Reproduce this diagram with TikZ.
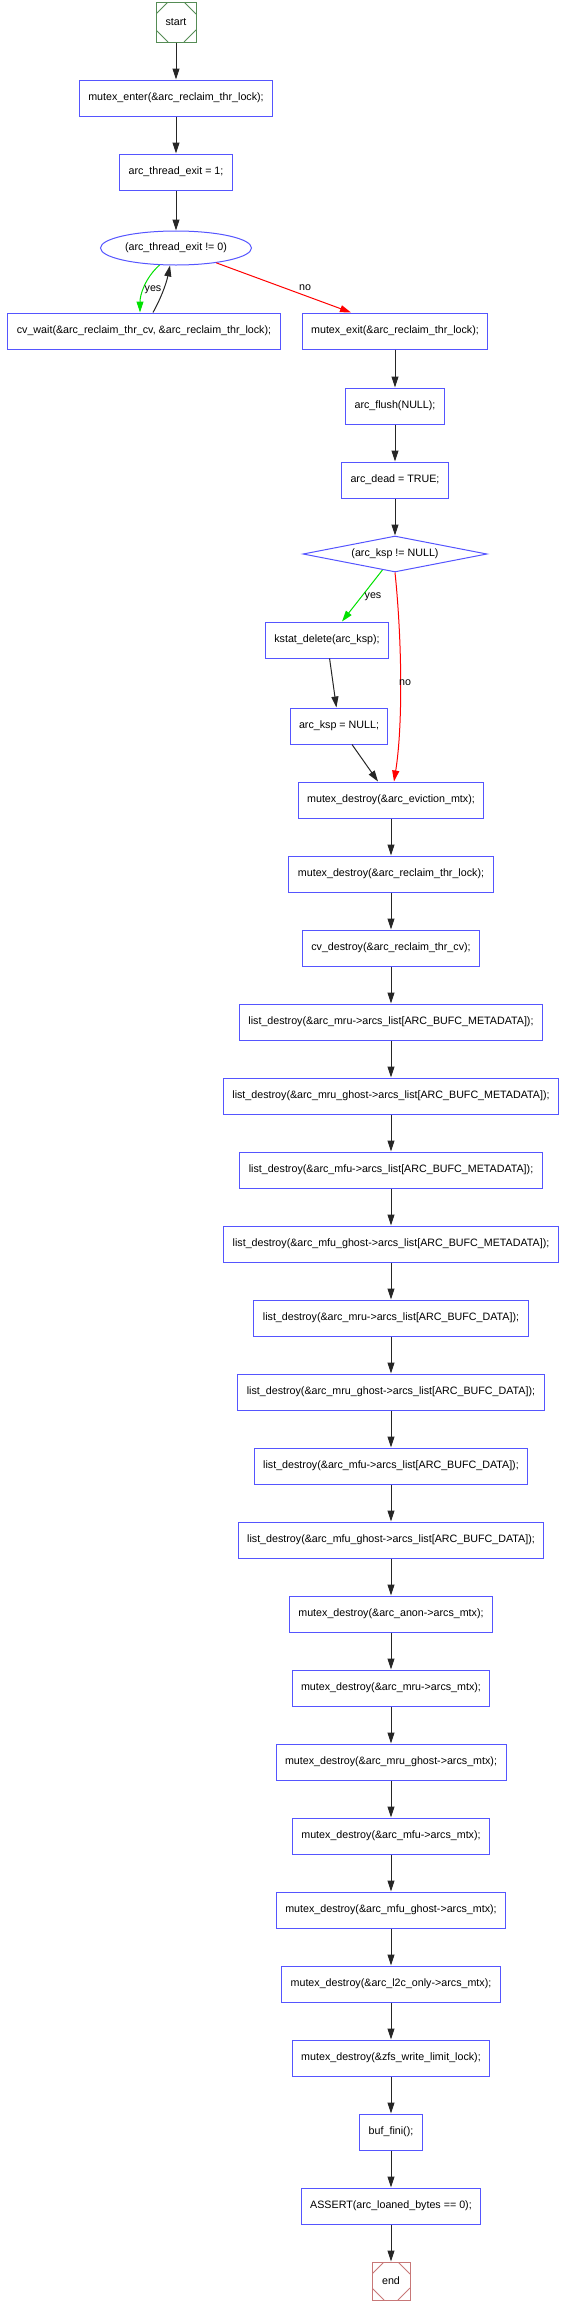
\documentclass[tikz,border=0pt]{standalone}
\usepackage{fontspec}
\setmainfont{Liberation Sans}
\usetikzlibrary{shapes.geometric,arrows.meta}
\definecolor{boxblue}{RGB}{85,85,255}
\definecolor{startgreen}{RGB}{85,140,85}
\definecolor{endred}{RGB}{200,120,120}
\definecolor{yesgreen}{RGB}{0,225,0}
\definecolor{nored}{RGB}{255,0,0}
\tikzset{
  base/.style={font=\fontsize{10.7}{12}\selectfont, text=black},
  proc/.style={base, draw=boxblue, line width=1pt, rectangle, minimum height=36pt, inner xsep=9pt, inner ysep=0pt},
  cond/.style={base, draw=boxblue, line width=1pt, ellipse, minimum width=151pt, minimum height=34pt, inner sep=0pt},
  dcond/.style={base, draw=boxblue, line width=1pt, diamond, aspect=5, minimum width=184pt, minimum height=36pt, inner sep=0pt},
  msq/.style={base, draw=#1, line width=1pt, rectangle, minimum width=40pt, minimum height=40pt, inner sep=0pt,
    path picture={
      \draw[#1, line width=0.8pt] ([xshift=12pt]path picture bounding box.north west) -- ([yshift=-12pt]path picture bounding box.north west);
      \draw[#1, line width=0.8pt] ([xshift=-12pt]path picture bounding box.north east) -- ([yshift=-12pt]path picture bounding box.north east);
      \draw[#1, line width=0.8pt] ([xshift=12pt]path picture bounding box.south west) -- ([yshift=12pt]path picture bounding box.south west);
      \draw[#1, line width=0.8pt] ([xshift=-12pt]path picture bounding box.south east) -- ([yshift=12pt]path picture bounding box.south east);
    }},
  flow/.style={draw=black!85, line width=1pt, -{Triangle[length=11pt,width=7pt]}},
  yesflow/.style={flow, draw=yesgreen},
  noflow/.style={flow, draw=nored},
  elabel/.style={base, inner sep=0pt}
}
\begin{document}
\begin{tikzpicture}[x=1pt, y=-1pt]
\useasboundingbox (0,0) rectangle (561,2302);

\node[msq=startgreen] (start) at (176,22) {start};
\node[proc] (menter) at (176,98) {mutex\_enter(\&arc\_reclaim\_thr\_lock);};
\node[proc] (texit) at (176,172) {arc\_thread\_exit = 1;};
\node[cond] (ell) at (176,248) {(arc\_thread\_exit != 0)};
\node[proc] (cvw) at (144,331) {cv\_wait(\&arc\_reclaim\_thr\_cv, \&arc\_reclaim\_thr\_lock);};
\node[proc] (mx) at (395,331) {mutex\_exit(\&arc\_reclaim\_thr\_lock);};
\node[proc] (flush) at (395,406) {arc\_flush(NULL);};
\node[proc] (dead) at (395,480) {arc\_dead = TRUE;};
\node[dcond] (dia) at (395,554) {(arc\_ksp != NULL)};
\node[proc] (kst) at (327,640) {kstat\_delete(arc\_ksp);};
\node[proc] (ksp) at (339,726) {arc\_ksp = NULL;};
\node[proc] (ev) at (391,800) {mutex\_destroy(\&arc\_eviction\_mtx);};
\node[proc] (n1) at (391,874) {mutex\_destroy(\&arc\_reclaim\_thr\_lock);};
\node[proc] (n2) at (391,948) {cv\_destroy(\&arc\_reclaim\_thr\_cv);};
\node[proc] (n3) at (391,1022) {list\_destroy(\&arc\_mru->arcs\_list[ARC\_BUFC\_METADATA]);};
\node[proc] (n4) at (391,1096) {list\_destroy(\&arc\_mru\_ghost->arcs\_list[ARC\_BUFC\_METADATA]);};
\node[proc] (n5) at (391,1170) {list\_destroy(\&arc\_mfu->arcs\_list[ARC\_BUFC\_METADATA]);};
\node[proc] (n6) at (391,1244) {list\_destroy(\&arc\_mfu\_ghost->arcs\_list[ARC\_BUFC\_METADATA]);};
\node[proc] (n7) at (391,1318) {list\_destroy(\&arc\_mru->arcs\_list[ARC\_BUFC\_DATA]);};
\node[proc] (n8) at (391,1392) {list\_destroy(\&arc\_mru\_ghost->arcs\_list[ARC\_BUFC\_DATA]);};
\node[proc] (n9) at (391,1466) {list\_destroy(\&arc\_mfu->arcs\_list[ARC\_BUFC\_DATA]);};
\node[proc] (n10) at (391,1540) {list\_destroy(\&arc\_mfu\_ghost->arcs\_list[ARC\_BUFC\_DATA]);};
\node[proc] (n11) at (391,1614) {mutex\_destroy(\&arc\_anon->arcs\_mtx);};
\node[proc] (n12) at (391,1688) {mutex\_destroy(\&arc\_mru->arcs\_mtx);};
\node[proc] (n13) at (391,1762) {mutex\_destroy(\&arc\_mru\_ghost->arcs\_mtx);};
\node[proc] (n14) at (391,1836) {mutex\_destroy(\&arc\_mfu->arcs\_mtx);};
\node[proc] (n15) at (391,1910) {mutex\_destroy(\&arc\_mfu\_ghost->arcs\_mtx);};
\node[proc] (n16) at (391,1984) {mutex\_destroy(\&arc\_l2c\_only->arcs\_mtx);};
\node[proc] (n17) at (391,2058) {mutex\_destroy(\&zfs\_write\_limit\_lock);};
\node[proc] (n18) at (391,2132) {buf\_fini();};
\node[proc] (n19) at (391,2206) {ASSERT(arc\_loaned\_bytes == 0);};
\node[msq=endred, minimum width=38pt, minimum height=38pt] (endn) at (391,2281) {end};

% top part
\draw[flow] (start) -- (menter);
\draw[flow] (menter) -- (texit);
\draw[flow] (texit) -- (ell);
\draw[yesflow] (ell.226) .. controls (145,278) and (140,295) .. ([xshift=-4pt]cvw.north);
\draw[flow] ([xshift=9pt]cvw.north) .. controls (160,300) and (166,285) .. (ell.251);
\node[elabel] (lyes1) at (153,290) {yes};
\draw[noflow] (ell) -- ([xshift=-44pt]mx.north);
\node[elabel] (lno1) at (305,288) {no};
\draw[flow] (mx) -- (flush);
\draw[flow] (flush) -- (dead);
\draw[flow] (dead) -- (dia);
\draw[yesflow] (dia) -- ([xshift=15pt]kst.north);
\node[elabel] (lyes2) at (373,597) {yes};
\draw[noflow] (dia.south) .. controls (402,640) and (403,725) .. ([xshift=3pt]ev.north);
\node[elabel] (lno2) at (405,683) {no};
\draw[flow] (kst) -- (ksp);
\draw[flow] (ksp) -- (ev);
% main column
\draw[flow] (ev) -- (n1);
\draw[flow] (n1) -- (n2);
\draw[flow] (n2) -- (n3);
\draw[flow] (n3) -- (n4);
\draw[flow] (n4) -- (n5);
\draw[flow] (n5) -- (n6);
\draw[flow] (n6) -- (n7);
\draw[flow] (n7) -- (n8);
\draw[flow] (n8) -- (n9);
\draw[flow] (n9) -- (n10);
\draw[flow] (n10) -- (n11);
\draw[flow] (n11) -- (n12);
\draw[flow] (n12) -- (n13);
\draw[flow] (n13) -- (n14);
\draw[flow] (n14) -- (n15);
\draw[flow] (n15) -- (n16);
\draw[flow] (n16) -- (n17);
\draw[flow] (n17) -- (n18);
\draw[flow] (n18) -- (n19);
\draw[flow] (n19) -- (endn);
\end{tikzpicture}
\end{document}
